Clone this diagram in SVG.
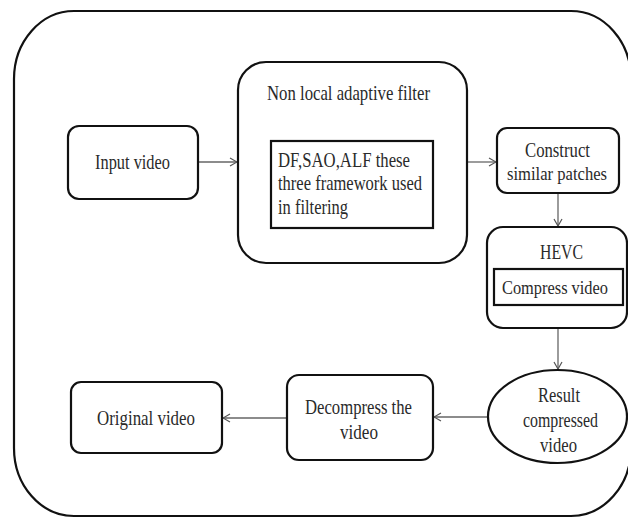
<svg xmlns="http://www.w3.org/2000/svg" width="628" height="518" viewBox="0 0 628 518">
<style>
.box{fill:#fff;stroke:#111;stroke-width:2.2}
.inner{fill:none;stroke:#111;stroke-width:2.2}
.t{font-family:"Liberation Serif","Times New Roman",serif;font-size:21px;fill:#2a2a2a}
.s{font-size:18px}
.c{stroke:#666;stroke-width:1.3;fill:none}
</style>
<defs>
<marker id="ah" markerWidth="10" markerHeight="10" refX="9" refY="5" orient="auto" markerUnits="userSpaceOnUse">
<path d="M2,1 L9,5 L2,9" fill="none" stroke="#555" stroke-width="1.2"/>
</marker>
</defs>
<rect width="628" height="518" fill="#fff"/>
<g id="frame"><rect x="14" y="11" width="617" height="505" rx="60" ry="68" fill="none" stroke="#111" stroke-width="2.2"/></g>
<g id="connectors">
<line class="c" x1="198" y1="162" x2="237" y2="162" marker-end="url(#ah)"/>
<line class="c" x1="467" y1="162" x2="496" y2="162" marker-end="url(#ah)"/>
<line class="c" x1="558" y1="193" x2="558" y2="226" marker-end="url(#ah)"/>
<line class="c" x1="558" y1="328" x2="558" y2="369" marker-end="url(#ah)"/>
<line class="c" x1="488" y1="417" x2="434" y2="417" marker-end="url(#ah)"/>
<line class="c" x1="287" y1="418" x2="223" y2="418" marker-end="url(#ah)"/>
</g>
<g id="input">
<rect class="box" x="68" y="126" width="130" height="73" rx="11"/>
<text class="t" x="95" y="169" textLength="75" lengthAdjust="spacingAndGlyphs">Input video</text>
</g>
<g id="nlaf">
<rect class="box" x="238" y="62" width="229" height="201" rx="28"/>
<text class="t" x="267" y="100" textLength="163" lengthAdjust="spacingAndGlyphs">Non local adaptive filter</text>
<rect class="inner" x="271" y="141" width="162" height="87"/>
<text class="t" x="278" y="167" textLength="132" lengthAdjust="spacingAndGlyphs">DF,SAO,ALF these</text>
<text class="t" x="278" y="190" textLength="144" lengthAdjust="spacingAndGlyphs">three framework used</text>
<text class="t" x="278" y="214" textLength="70" lengthAdjust="spacingAndGlyphs">in filtering</text>
</g>
<g id="construct">
<rect class="box" x="497" y="128" width="122" height="65" rx="10"/>
<text class="t" x="525" y="157" textLength="65" lengthAdjust="spacingAndGlyphs">Construct</text>
<text class="t s" x="507" y="180" textLength="100" lengthAdjust="spacingAndGlyphs">similar patches</text>
</g>
<g id="hevc">
<rect class="box" x="487" y="227" width="140" height="101" rx="16"/>
<text class="t" x="540" y="259" textLength="43" lengthAdjust="spacingAndGlyphs">HEVC</text>
<rect class="inner" x="494" y="269" width="129" height="36"/>
<text class="t s" x="502" y="294" textLength="106" lengthAdjust="spacingAndGlyphs">Compress video</text>
</g>
<g id="result">
<ellipse class="box" cx="557.5" cy="416.5" rx="69.5" ry="46.5"/>
<text class="t" x="538" y="402" textLength="42" lengthAdjust="spacingAndGlyphs">Result</text>
<text class="t" x="523" y="427" textLength="75" lengthAdjust="spacingAndGlyphs">compressed</text>
<text class="t" x="540" y="452" textLength="37" lengthAdjust="spacingAndGlyphs">video</text>
</g>
<g id="decompress">
<rect class="box" x="287" y="375" width="146" height="85" rx="12"/>
<text class="t" x="305" y="414" textLength="107" lengthAdjust="spacingAndGlyphs">Decompress the</text>
<text class="t" x="340" y="439" textLength="38" lengthAdjust="spacingAndGlyphs">video</text>
</g>
<g id="original">
<rect class="box" x="71" y="382" width="151" height="71" rx="10"/>
<text class="t" x="97" y="425" textLength="98" lengthAdjust="spacingAndGlyphs">Original video</text>
</g>
</svg>
